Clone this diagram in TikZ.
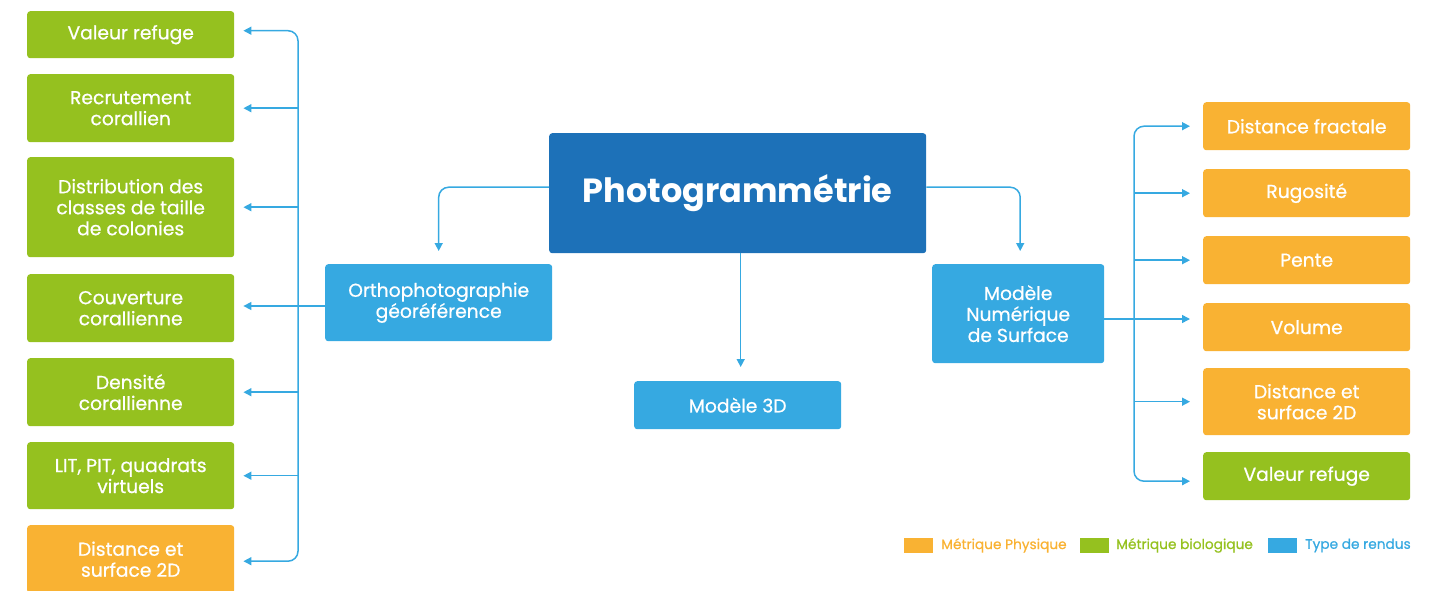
\documentclass[tikz,border=0pt]{standalone}
\usepackage{fontspec}
\setmainfont{Poppins}
\newfontfamily\medfont{Poppins}[FakeBold=0.7]
\usetikzlibrary{arrows.meta}
\definecolor{bio}{HTML}{95C11F}
\definecolor{phys}{HTML}{F9B233}
\definecolor{rendu}{HTML}{36A9E1}
\definecolor{core}{HTML}{1D71B8}
\begin{document}
\begin{tikzpicture}[x=1pt,y=-1pt,
  box/.style={rounded corners=3pt, text=white, align=center, anchor=north west,
    inner sep=0pt, font=\medfont\fontsize{18.7}{21}\selectfont},
  biobox/.style={box, fill=bio, minimum width=207pt},
  physbox/.style={box, fill=phys, minimum width=207pt},
  rendubox/.style={box, fill=rendu},
  conn/.style={draw=rendu, line width=1.5pt},
  arr/.style={conn, -{Triangle[length=8pt,width=8pt]}},
  legbox/.style={minimum width=29pt, minimum height=15pt, inner sep=0pt, anchor=north west},
  legtxt/.style={anchor=west, inner sep=0pt, font=\medfont\fontsize{13.7}{15}\selectfont}]
\useasboundingbox (0,0) rectangle (1433,590);

% central node
\node[box, fill=core, minimum width=377pt, minimum height=120pt,
      font=\fontsize{33.5}{38}\selectfont\bfseries] (photo) at (549,133) {Photogrammétrie};

% output types
\node[rendubox, minimum width=227pt, minimum height=77pt] (ortho) at (325,264) {Orthophotographie\\géoréférence};
\node[rendubox, minimum width=207pt, minimum height=48pt] (m3d) at (634,381) {Modèle 3D};
\node[rendubox, minimum width=172pt, minimum height=99pt] (mns) at (932,264) {Modèle\\Numérique\\de Surface};

% metrics from the orthophoto
\node[biobox, minimum height=47pt] (l1) at (27,11) {Valeur refuge};
\node[biobox, minimum height=68pt] (l2) at (27,74) {Recrutement\\corallien};
\node[biobox, minimum height=100pt] (l3) at (27,157) {Distribution des\\classes de taille\\de colonies};
\node[biobox, minimum height=68pt] (l4) at (27,274) {Couverture\\corallienne};
\node[biobox, minimum height=68pt] (l5) at (27,358) {Densité\\corallienne};
\node[biobox, minimum height=67pt] (l6) at (27,442) {LIT, PIT, quadrats\\virtuels};
\node[physbox, minimum height=68pt] (l7) at (27,525) {Distance et\\surface 2D};

% metrics from the surface model
\node[physbox, minimum height=48pt] (r1) at (1203,102) {Distance fractale};
\node[physbox, minimum height=48pt] (r2) at (1203,169) {Rugosité};
\node[physbox, minimum height=48pt] (r3) at (1203,236) {Pente};
\node[physbox, minimum height=48pt] (r4) at (1203,303) {Volume};
\node[physbox, minimum height=67pt] (r5) at (1203,368) {Distance et\\surface 2D};
\node[biobox, minimum height=48pt] (r6) at (1203,452) {Valeur refuge};

% connectors from the central node
\draw[arr, rounded corners=10pt, shorten >=13pt] ([yshift=6pt]photo.west) -| (ortho.north);
\draw[arr, rounded corners=10pt, shorten >=13pt] ([yshift=6pt]photo.east) -| ([xshift=2pt]mns.north);
\draw[arr, shorten >=14pt] ([xshift=3pt]photo.south) -- ([xshift=3pt]m3d.north);

% left bus
\coordinate (busL) at (298,306);
\draw[conn] (ortho.west |- busL) -- (busL);
\draw[arr, rounded corners=10pt, shorten >=9pt] (busL) |- ([yshift=4pt]l1.east);
\draw[arr, shorten >=9pt] (busL |- l2.east) -- (l2.east);
\draw[arr, shorten >=9pt] (busL |- l3.east) -- (l3.east);
\draw[arr, shorten >=9pt] (busL) -- (busL -| l4.east);
\draw[arr, shorten >=9pt] (busL |- l5.east) -- (l5.east);
\draw[arr, shorten >=9pt] (busL |- l6.east) -- (l6.east);
\draw[arr, rounded corners=10pt, shorten >=9pt] (busL) |- ([yshift=-2pt]l7.east);

% right bus
\coordinate (busR) at (1134,319);
\draw[conn] (mns.east |- busR) -- (busR);
\draw[arr, rounded corners=10pt, shorten >=13pt] (busR) |- (r1.west);
\draw[arr, shorten >=13pt] (busR |- r2.west) -- (r2.west);
\draw[arr, shorten >=13pt] (busR |- r3.west) -- (r3.west);
\draw[arr, shorten >=13pt] (busR) -- (busR -| r4.west);
\draw[arr, shorten >=13pt] (busR |- r5.west) -- (r5.west);
\draw[arr, rounded corners=10pt, shorten >=13pt] (busR) |- ([yshift=-5pt]r6.west);

% legend
\node[legbox, fill=phys] (kp) at (904,538) {};
\node[legtxt, text=phys] (tp) at (941,545.5) {Métrique Physique};
\node[legbox, fill=bio] (kb) at (1080,538) {};
\node[legtxt, text=bio] (tb) at (1116,545.5) {Métrique biologique};
\node[legbox, fill=rendu] (kr) at (1268,538) {};
\node[legtxt, text=rendu] (tr) at (1305,545.5) {Type de rendus};
\end{tikzpicture}
\end{document}
